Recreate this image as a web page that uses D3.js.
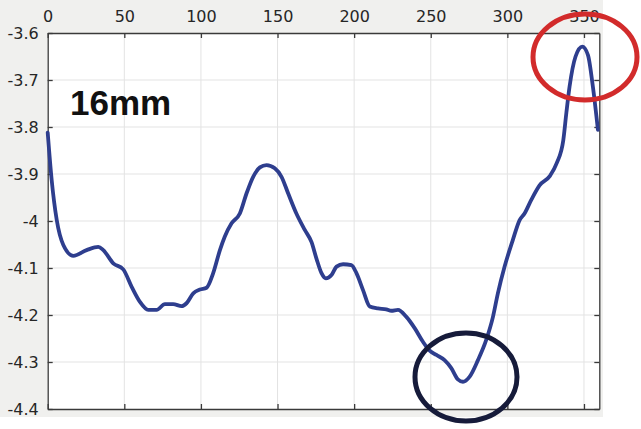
<!DOCTYPE html>
<html><head><meta charset="utf-8">
<script src="https://cdn.jsdelivr.net/npm/d3@7"></script>
<style>body{margin:0;background:#fff}svg{display:block}</style>
</head><body>
<svg id="c" width="641" height="429"></svg>
<script>
const xVals = [0,2.6,5.9,10.2,16.7,25.4,33,36.3,42.8,49.3,54.8,60.2,65.6,71.1,76.5,81.9,87.4,90.6,95,99.3,103.7,108,112.4,115.6,120,125.4,129.8,134.1,138.5,142.8,148.2,152.6,156.9,162.3,167.8,172.2,175.4,178.7,181.5,185.2,188.5,192.8,198.2,201.5,205.8,210.2,215.6,221,224.3,228.6,234.1,239.5,244.9,249.3,253.7,259,263.4,267.7,271,275.4,280.8,286.2,290.6,293.8,298.2,303.6,308,311.2,315.6,321,327.8,332.2,336.5,338.5,340.6,344.5,348.9,352.6,355.8,359.1];
const yVals = [-3.812,-3.913,-3.998,-4.051,-4.074,-4.062,-4.055,-4.062,-4.09,-4.103,-4.14,-4.172,-4.189,-4.189,-4.177,-4.177,-4.181,-4.175,-4.154,-4.146,-4.142,-4.111,-4.062,-4.033,-4.005,-3.984,-3.941,-3.906,-3.886,-3.881,-3.888,-3.906,-3.941,-3.984,-4.019,-4.045,-4.08,-4.111,-4.122,-4.115,-4.097,-4.092,-4.094,-4.111,-4.147,-4.182,-4.186,-4.188,-4.191,-4.189,-4.204,-4.228,-4.257,-4.276,-4.285,-4.296,-4.313,-4.337,-4.342,-4.331,-4.296,-4.253,-4.204,-4.154,-4.097,-4.04,-3.998,-3.984,-3.955,-3.924,-3.904,-3.877,-3.828,-3.77,-3.714,-3.65,-3.629,-3.647,-3.714,-3.806];
const xTicks = [0,50,100,150,200,250,300,350];
const yTicks = [-3.6,-3.7,-3.8,-3.9,-4,-4.1,-4.2,-4.3,-4.4];
const yTickLabels = ["-3.6","-3.7","-3.8","-3.9","-4","-4.1","-4.2","-4.3","-4.4"];
const label = "16mm";

const svg = d3.select("#c");
const L = 47.7, R = 599.3, T = 33, B = 409;
const x = d3.scaleLinear().domain([0,360]).range([L,R]);
const y = d3.scaleLinear().domain([-4.4,-3.6]).range([B,T]);

svg.append("rect").attr("x",0).attr("y",0).attr("width",603).attr("height",417).attr("fill","#f0f0ee");
svg.append("rect").attr("x",L).attr("y",T).attr("width",R-L).attr("height",B-T).attr("fill","#fff");

// grid
svg.append("g").selectAll("line").data(xTicks.slice(1)).join("line")
  .attr("x1",d=>x(d)).attr("x2",d=>x(d)).attr("y1",T).attr("y2",B)
  .attr("stroke","#e3e3e3").attr("stroke-width",1);
svg.append("g").selectAll("line").data(yTicks.slice(1,-1)).join("line")
  .attr("x1",L).attr("x2",R).attr("y1",d=>y(d)).attr("y2",d=>y(d))
  .attr("stroke","#e3e3e3").attr("stroke-width",1);

// axes
const fmtY = d => yTickLabels[yTicks.indexOf(d)];
const gTop = svg.append("g").attr("transform",`translate(0,${T})`)
  .call(d3.axisTop(x).tickValues(xTicks).tickSizeInner(-5).tickSizeOuter(0).tickPadding(11));
const gLeft = svg.append("g").attr("transform",`translate(${L},0)`)
  .call(d3.axisLeft(y).tickValues(yTicks).tickFormat(fmtY).tickSizeInner(-5).tickSizeOuter(0).tickPadding(9));
const gBottom = svg.append("g").attr("transform",`translate(0,${B})`)
  .call(d3.axisBottom(x).tickValues(xTicks).tickSizeInner(-5).tickSizeOuter(0).tickFormat(""));
const gRight = svg.append("g").attr("transform",`translate(${R},0)`)
  .call(d3.axisRight(y).tickValues(yTicks).tickSizeInner(-5).tickSizeOuter(0).tickFormat(""));
[gTop,gLeft,gBottom,gRight].forEach(g=>{
  g.selectAll("path.domain").attr("stroke","#3a3a3a").attr("stroke-width",1.3);
  g.selectAll(".tick line").attr("stroke","#3a3a3a").attr("stroke-width",1.3);
  g.selectAll("text").attr("font-family","DejaVu Sans, sans-serif").attr("font-size",16).attr("fill","#262626");
});

// line
const data = xVals.map((v,i)=>[v,yVals[i]]);
svg.append("path").datum(data)
  .attr("fill","none").attr("stroke","#2e3e8e").attr("stroke-width",3.8)
  .attr("stroke-linejoin","round").attr("stroke-linecap","round")
  .attr("d", d3.line().x(d=>x(d[0])).y(d=>y(d[1])).curve(d3.curveMonotoneX));

// label
svg.append("text").attr("x",70).attr("y",115).text(label)
  .attr("font-family","Liberation Sans, Arial, sans-serif").attr("font-weight","bold")
  .attr("font-size",35).attr("fill","#111");

// ellipses
svg.append("ellipse").attr("cx",585).attr("cy",57).attr("rx",52).attr("ry",43)
  .attr("fill","none").attr("stroke","#d22b2b").attr("stroke-width",5);
svg.append("ellipse").attr("cx",466).attr("cy",377).attr("rx",51).attr("ry",44)
  .attr("fill","none").attr("stroke","#161b3a").attr("stroke-width",5);
</script>
</body></html>
